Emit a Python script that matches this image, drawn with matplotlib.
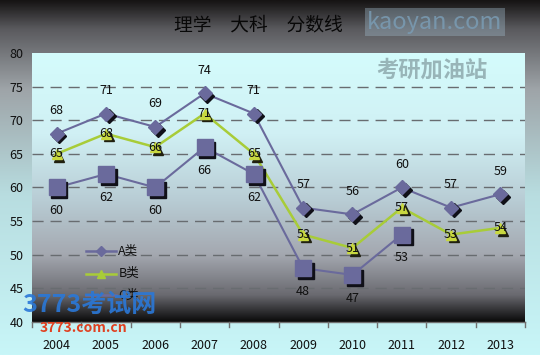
import matplotlib
matplotlib.use('Agg')
import matplotlib.pyplot as plt
import matplotlib.transforms as mtransforms
from matplotlib.colors import LinearSegmentedColormap
import numpy as np

plt.rcParams['font.family'] = ['Noto Sans CJK SC', 'DejaVu Sans']

years = ['2004', '2005', '2006', '2007', '2008', '2009', '2010', '2011', '2012', '2013']
a_scores = [68, 71, 69, 74, 71, 57, 56, 60, 57, 59]
b_scores = [65, 68, 66, 71, 65, 53, 51, 57, 53, 54]
c_scores = [60, 62, 60, 66, 62, 48, 47, 53]
series_names = ['A类', 'B类', 'C类']
title = '理学　大科　分数线'

fig = plt.figure(figsize=(5.4, 3.55), dpi=100)

# figure background gradient (dark on top, light cyan at the bottom)
bg = fig.add_axes([0, 0, 1, 1], zorder=-10)
bg_cmap = LinearSegmentedColormap.from_list(
    'bg', [(0, '#161414'), (0.08, '#5a5a5e'), (0.25, '#9ea4a8'), (0.55, '#b8dde0'), (1, '#c8f6f8')])
bg.imshow(np.linspace(0, 1, 256).reshape(-1, 1), aspect='auto', cmap=bg_cmap,
          extent=[0, 1, 0, 1])
bg.set_axis_off()

ax = fig.add_axes([32 / 540, 1 - 322 / 355, 493 / 540, 269 / 355])

pa_cmap = LinearSegmentedColormap.from_list(
    'pa', [(0, '#d4fcfc'), (0.3, '#d0f0f4'), (0.55, '#b8ccd4'), (0.75, '#a4a8b0'), (0.9, '#6a6a70'), (1, '#0a0a0a')])
ax.imshow(np.linspace(0, 1, 256).reshape(-1, 1), aspect='auto', cmap=pa_cmap,
          extent=[-0.5, 9.5, 40, 80], zorder=0)
ax.set_xlim(-0.5, 9.5)
ax.set_ylim(40, 80)

for v in range(45, 80, 5):
    ax.axhline(v, color='#686c70', lw=1, ls=(0, (8, 5)), zorder=1)

for s in ax.spines.values():
    s.set_visible(False)

x = np.arange(len(years))
shadow = mtransforms.offset_copy(ax.transData, fig=fig, x=2, y=-2, units='points')

purple = '#6a6a9c'
green = '#a8cc38'

# C series
xc = x[:len(c_scores)]
ax.plot(xc, c_scores, color=purple, lw=1.5, zorder=3)
ax.plot(xc, c_scores, ls='none', marker='s', ms=12, color='#101018', transform=shadow, zorder=4)
ax.plot(xc, c_scores, ls='none', marker='s', ms=12, color=purple, zorder=5)

# B series
ax.plot(x, b_scores, color=green, lw=1.8, zorder=3)
ax.plot(x, b_scores, ls='none', marker='^', ms=7, color='#202010', transform=shadow, zorder=4)
ax.plot(x, b_scores, ls='none', marker='^', ms=7, color='#c8d840', zorder=5)

# A series
ax.plot(x, a_scores, color=purple, lw=1.5, zorder=3)
ax.plot(x, a_scores, ls='none', marker='D', ms=7, color='#101018', transform=shadow, zorder=4)
ax.plot(x, a_scores, ls='none', marker='D', ms=7, color=purple, zorder=5)

for i, v in enumerate(a_scores):
    ax.annotate(str(v), (i, v), xytext=(0, 12), textcoords='offset points',
                ha='center', va='bottom', fontsize=9, color='#101010', zorder=6)
for i, v in enumerate(b_scores):
    ax.annotate(str(v), (i, v), xytext=(0, 0), textcoords='offset points',
                ha='center', va='center', fontsize=9, color='#101010', zorder=6)
for i, v in enumerate(c_scores):
    ax.annotate(str(v), (i, v), xytext=(0, -12), textcoords='offset points',
                ha='center', va='top', fontsize=9, color='#101010', zorder=6)

ax.set_yticks(range(40, 81, 5))
ax.tick_params(axis='y', length=0, labelsize=9, pad=6, labelcolor='#101010')
ax.set_xticks(x)
ax.set_xticklabels(years)
ax.tick_params(axis='x', length=0, labelsize=9, pad=12, labelcolor='#101010')
for b in np.arange(-0.5, 10, 1):
    ax.plot([b, b], [40, 39.2], color='#707070', lw=1, clip_on=False, zorder=2)
ax.plot([-0.5, 9.5], [40, 40], color='#707070', lw=1, clip_on=False, zorder=2)

# legend
legend_rows = [('D', purple, 5, 50.5), ('^', green, 6, 47.2), ('s', purple, 6, 44.0)]
for k, (name, (mk, col, ms, yv)) in enumerate(zip(series_names, legend_rows)):
    ax.plot([0.6, 1.2], [yv, yv], color=col, lw=1.8, zorder=6)
    if k < 2:
        ax.plot([0.9], [yv], marker=mk, ms=ms, color=col, zorder=6)
    ax.text(1.25, yv, name, fontsize=9, va='center', ha='left', color='#101010', zorder=6)

fig.text(0.478, 1 - 25 / 355, title, ha='center', va='center', fontsize=13.5,
         color='#080808', fontweight='medium')

# watermarks
fig.text(0.805, 1 - 22 / 355, 'kaoyan.com', ha='center', va='center', fontsize=17,
         color='#7a9cb4', alpha=0.85,
         bbox=dict(boxstyle='square,pad=0.1', facecolor='#9cb4c4', edgecolor='none', alpha=0.4))
fig.text(0.8, 1 - 70 / 355, '考研加油站', ha='center', va='center', fontsize=16,
         color='#8aa4a8', alpha=0.8, fontweight='bold')
fig.text(0.165, 1 - 305 / 355, '3773考试网', ha='center', va='center', fontsize=18,
         color='#2a78d8', style='italic', fontweight='bold', alpha=0.9)
fig.text(0.155, 1 - 328 / 355, '3773.com.cn', ha='center', va='center', fontsize=10,
         color='#e04020', fontweight='bold')

fig.savefig('out.png', dpi=100)
